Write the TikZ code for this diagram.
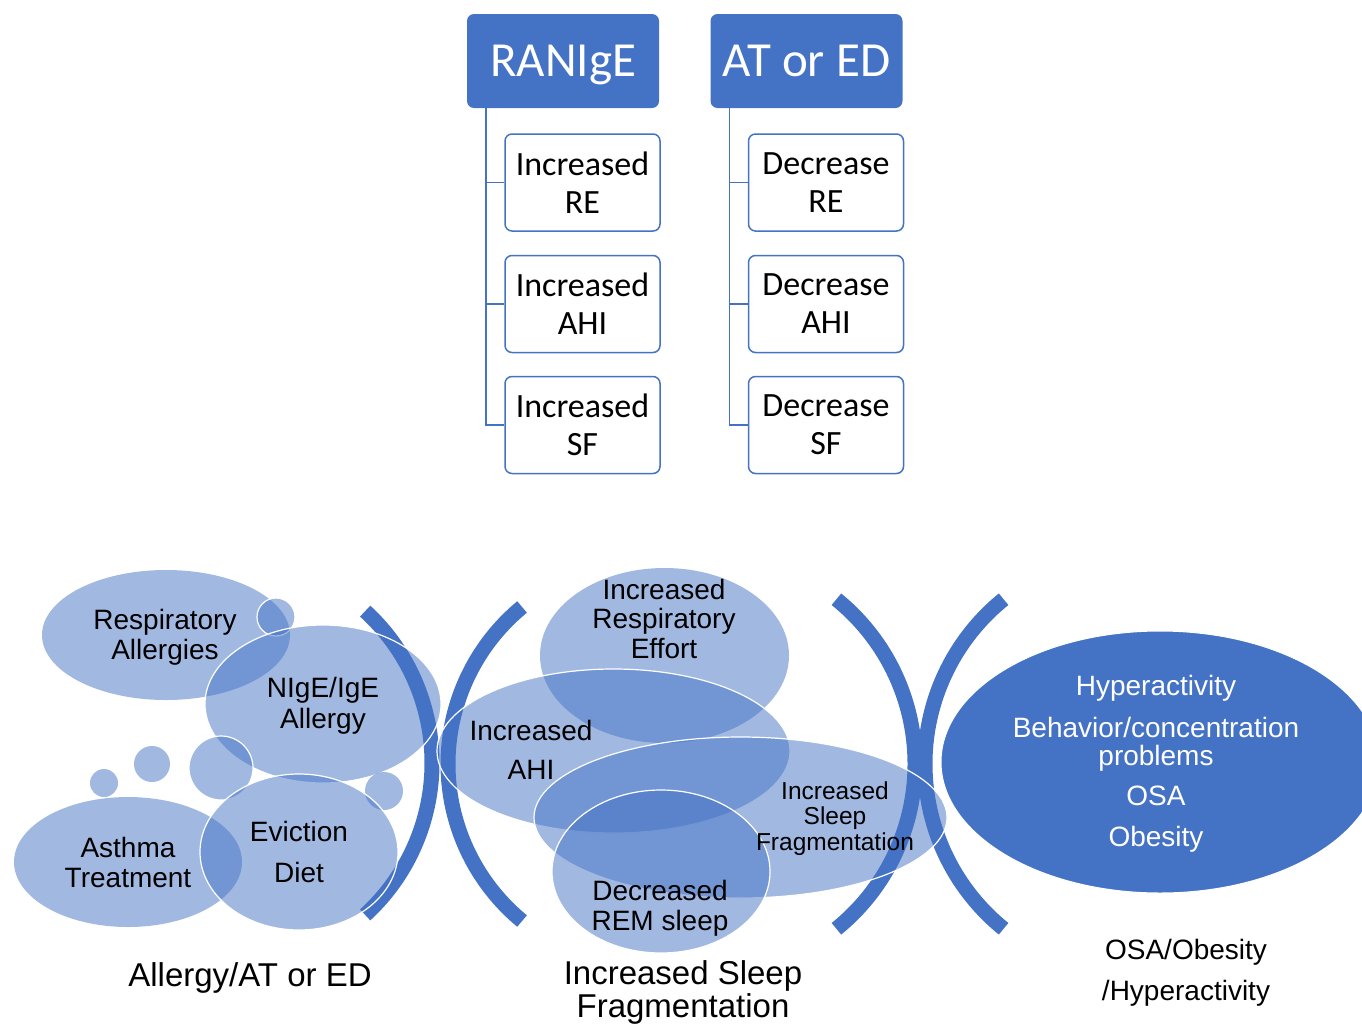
\documentclass[tikz,border=0pt]{standalone}
\usepackage{fontspec}
\setmainfont{Liberation Sans}
\newfontfamily\calfont{Carlito}
\definecolor{blu}{HTML}{4472C4}
\tikzset{
  topbox/.style={fill=blu, rounded corners=7pt, minimum width=192pt, minimum height=94pt, inner sep=0pt, text depth=0pt, text=white, font=\calfont\fontsize{49}{52}\selectfont},
  subbox/.style={draw=blu, line width=1.5pt, fill=white, rounded corners=7pt, minimum width=155pt, minimum height=97pt, inner sep=0pt, align=center, font=\calfont\fontsize{34}{38}\selectfont},
  trunk/.style={draw=blu, line width=1.5pt},
  bub/.style={fill=blu, fill opacity=0.5},
  bubw/.style={bub, draw=white, draw opacity=1, line width=1.2pt},
  brk/.style={draw=blu, line width=15pt},
  lbl/.style={align=center, inner sep=0pt, font=\fontsize{28}{30}\selectfont},
  wlbl/.style={lbl, text=white},
  captxt/.style={align=center, inner sep=0pt, font=\fontsize{33}{33}\selectfont},
}
\begin{document}
\begin{tikzpicture}[x=1pt,y=-1pt]
\useasboundingbox (0,0) rectangle (1362,1023);
\clip (0,0) rectangle (1362,1023);
% ---------- top tree ----------
\node[topbox] (ranige) at (563,61) {RANIgE};
\node[topbox] (ated) at (806.5,61) {AT or ED};
\node[subbox] (l1) at (582.5,182.5) {Increased\\RE};
\node[subbox] (l2) at (582.5,304) {Increased\\AHI};
\node[subbox] (l3) at (582.5,425) {Increased\\SF};
\node[subbox] (r1) at (826,182.5) {Decrease\\RE};
\node[subbox] (r2) at (826,304) {Decrease\\AHI};
\node[subbox] (r3) at (826,425) {Decrease\\SF};
\foreach \c in {l1,l2,l3} \draw[trunk] ([xshift=19pt]ranige.south west) |- (\c.west);
\foreach \c in {r1,r2,r3} \draw[trunk] ([xshift=19pt]ated.south west) |- (\c.west);
% ---------- brackets ----------
\draw[brk] (226,763) ++(-47.5:206pt) arc[start angle=-47.5, end angle=47.5, radius=206pt];
\draw[brk] (651.5,764) ++(129.5:203.5pt) arc[start angle=129.5, end angle=230.5, radius=203.5pt];
\draw[brk] (703,764) ++(-51:212pt) arc[start angle=-51, end angle=51, radius=212pt];
\draw[brk] (1137,764) ++(129:212pt) arc[start angle=129, end angle=231, radius=212pt];
% ---------- left group ----------
\path[bub]  (166,635) ellipse [x radius=124pt, y radius=65pt];
\path[bubw] (276,617) circle [radius=19pt];
\path[bubw] (323,704) ellipse [x radius=118pt, y radius=79pt];
\path[bubw] (221,768) circle [radius=32pt];
\path[bub]  (152,764) circle [radius=18pt];
\path[bub]  (104,783) circle [radius=14pt];
\path[bub]  (384,791) circle [radius=19pt];
\path[bub]  (128,862) ellipse [x radius=114pt, y radius=65pt];
\path[bubw] (299,852) ellipse [x radius=99pt, y radius=78pt];
% ---------- middle group ----------
\path[bub]  (664.5,655.5) ellipse [x radius=124.5pt, y radius=87.5pt];
\path[bubw] (613.5,751) ellipse [x radius=176.5pt, y radius=82pt];
\path[bubw] (740.5,817.5) ellipse [x radius=206.5pt, y radius=80.5pt];
\path[bubw] (661,871.5) ellipse [x radius=109pt, y radius=81.5pt];
% ---------- right ellipse ----------
\path[fill=blu, draw=white, line width=1pt] (1160,762) ellipse [x radius=219pt, y radius=131pt];
% ---------- labels ----------
\node[lbl] (tra) at (165,637) {Respiratory\\Allergies};
\node[lbl, font=\fontsize{28}{31}\selectfont] (tni) at (323,706) {NIgE/IgE\\Allergy};
\node[lbl] (tev) at (299,831) {Eviction};
\node[lbl] (tdi) at (299,872) {Diet};
\node[lbl] (tas) at (128,862) {Asthma\\Treatment};
\node[lbl, font=\fontsize{28}{29.5}\selectfont] (tre) at (664,618.5) {Increased\\Respiratory\\Effort};
\node[lbl] (tin) at (531,730) {Increased};
\node[lbl] (tah) at (531,770) {AHI};
\node[lbl, font=\fontsize{24.5}{25.5}\selectfont] (tsf) at (835,818.5) {Increased\\Sleep\\Fragmentation};
\node[lbl] (trem) at (660,908) {Decreased\\REM sleep};
\node[wlbl] (w1) at (1156,688) {Hyperactivity};
\node[wlbl, font=\fontsize{28}{28}\selectfont] (w2) at (1156,744) {Behavior/concentration\\problems};
\node[wlbl] (w3) at (1156,796) {OSA};
\node[wlbl] (w4) at (1156,839) {Obesity};
\node[lbl] (o1) at (1186,952) {OSA/Obesity};
\node[lbl] (o2) at (1186,993) {/Hyperactivity};
\node[captxt] (c1) at (250,978) {Allergy/AT or ED};
\node[captxt] (c2) at (683,992.5) {Increased Sleep\\Fragmentation};
\end{tikzpicture}
\end{document}
